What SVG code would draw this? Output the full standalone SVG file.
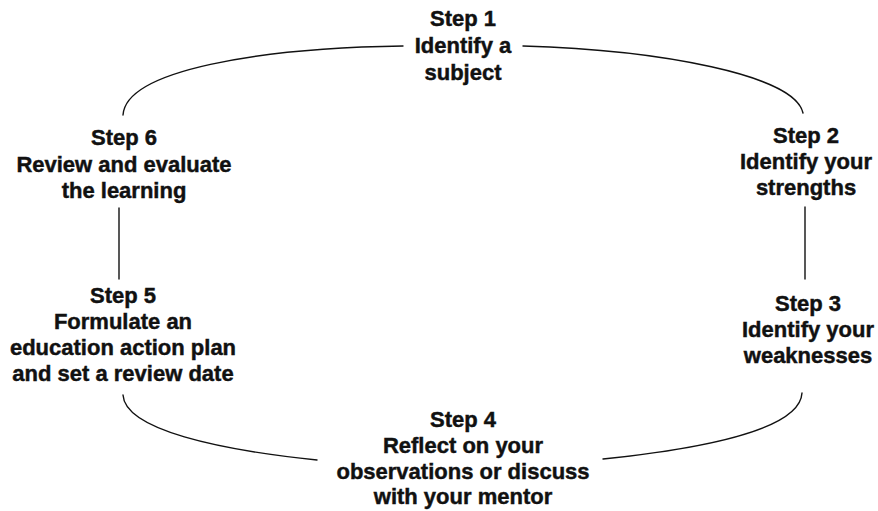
<svg xmlns="http://www.w3.org/2000/svg" width="878" height="511" viewBox="0 0 878 511">
  <style>
    .step { font-family: "Liberation Sans", Arial, Helvetica, sans-serif; font-size: 22px; font-weight: bold; fill: #111; stroke: #111; stroke-width: 0.45; text-anchor: middle; }
    .link { fill: none; stroke: #111; stroke-width: 1.4; stroke-linecap: round; }
  </style>
  <rect width="878" height="511" fill="#fff"/>

  <!-- cycle connectors -->
  <g id="connectors">
    <path class="link" d="M123,115 C126,70 260,48 403,46"/>
    <path class="link" d="M523,46 C660,50 795,75 803,113"/>
    <path class="link" d="M805,207 L805,279"/>
    <path class="link" d="M802,393 C800,430 700,449 603,459"/>
    <path class="link" d="M123,395 C125,430 220,450 317,460"/>
    <path class="link" d="M119,208 L119,279"/>
  </g>

  <g id="step1">
    <text class="step" x="463" y="26">Step 1</text>
    <text class="step" x="463" y="53">Identify a</text>
    <text class="step" x="463" y="80">subject</text>
  </g>
  <g id="step2">
    <text class="step" x="806" y="143">Step 2</text>
    <text class="step" x="806" y="169">Identify your</text>
    <text class="step" x="806" y="195">strengths</text>
  </g>
  <g id="step3">
    <text class="step" x="808" y="311">Step 3</text>
    <text class="step" x="808" y="337">Identify your</text>
    <text class="step" x="808" y="363">weaknesses</text>
  </g>
  <g id="step4">
    <text class="step" x="463" y="427">Step 4</text>
    <text class="step" x="463" y="453">Reflect on your</text>
    <text class="step" x="463" y="479">observations or discuss</text>
    <text class="step" x="463" y="504">with your mentor</text>
  </g>
  <g id="step5">
    <text class="step" x="123" y="303">Step 5</text>
    <text class="step" x="123" y="329">Formulate an</text>
    <text class="step" x="123" y="355">education action plan</text>
    <text class="step" x="123" y="381">and set a review date</text>
  </g>
  <g id="step6">
    <text class="step" x="124" y="145">Step 6</text>
    <text class="step" x="124" y="172">Review and evaluate</text>
    <text class="step" x="124" y="198">the learning</text>
  </g>
</svg>
